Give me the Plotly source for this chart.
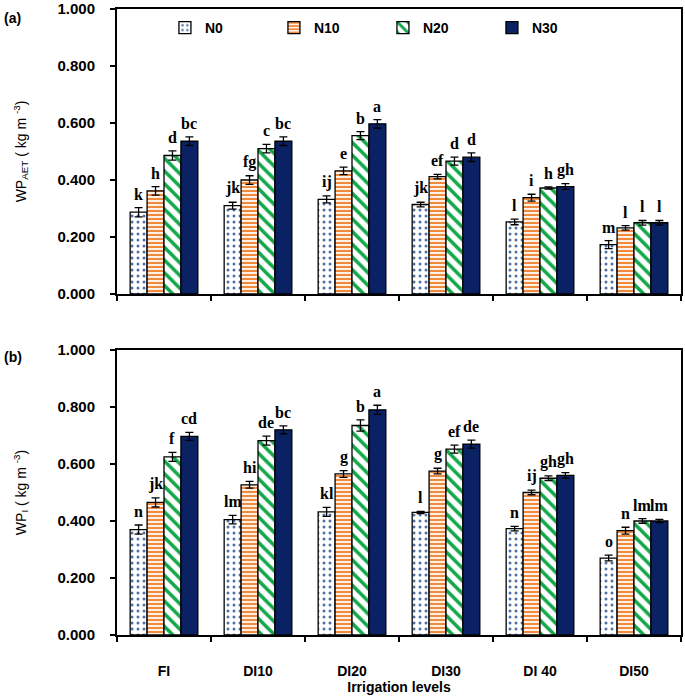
import plotly.graph_objects as go
from plotly.subplots import make_subplots

categories = ["FI", "DI10", "DI20", "DI30", "DI 40", "DI50"]
series_names = ["N0", "N10", "N20", "N30"]

# Panel (a): WP_AET
wp_aet = {
    "N0": [0.287, 0.310, 0.332, 0.314, 0.253, 0.173],
    "N10": [0.362, 0.400, 0.432, 0.412, 0.338, 0.232],
    "N20": [0.486, 0.510, 0.556, 0.466, 0.372, 0.250],
    "N30": [0.536, 0.536, 0.597, 0.480, 0.377, 0.250],
}
wp_aet_err = {
    "N0": [0.016, 0.012, 0.012, 0.008, 0.010, 0.014],
    "N10": [0.015, 0.015, 0.013, 0.008, 0.012, 0.008],
    "N20": [0.016, 0.015, 0.014, 0.014, 0.004, 0.008],
    "N30": [0.015, 0.015, 0.015, 0.015, 0.010, 0.008],
}
wp_aet_letters = {
    "N0": ["k", "jk", "ij", "jk", "l", "m"],
    "N10": ["h", "fg", "e", "ef", "i", "l"],
    "N20": ["d", "c", "b", "d", "h", "l"],
    "N30": ["bc", "bc", "a", "d", "gh", "l"],
}

# Panel (b): WP_I
wp_i = {
    "N0": [0.370, 0.405, 0.432, 0.430, 0.373, 0.270],
    "N10": [0.465, 0.527, 0.565, 0.575, 0.500, 0.366],
    "N20": [0.625, 0.682, 0.735, 0.652, 0.550, 0.400],
    "N30": [0.697, 0.720, 0.790, 0.670, 0.560, 0.400],
}
wp_i_err = {
    "N0": [0.016, 0.015, 0.016, 0.004, 0.008, 0.010],
    "N10": [0.016, 0.012, 0.012, 0.010, 0.008, 0.012],
    "N20": [0.016, 0.016, 0.020, 0.014, 0.008, 0.008],
    "N30": [0.014, 0.014, 0.016, 0.014, 0.010, 0.006],
}
wp_i_letters = {
    "N0": ["n", "lm", "kl", "l", "n", "o"],
    "N10": ["jk", "hi", "g", "g", "ij", "n"],
    "N20": ["f", "de", "b", "ef", "gh", "lm"],
    "N30": ["cd", "bc", "a", "de", "gh", "lm"],
}

y_ticks = [0.0, 0.2, 0.4, 0.6, 0.8, 1.0]

styles = {
    "N0": dict(shape=".", fgcolor="#4F6FA8", bgcolor="white", size=6, solidity=0.2),
    "N10": dict(shape="-", fgcolor="#F08A3C", bgcolor="#FDF0E6", size=4, solidity=0.5),
    "N20": dict(shape="\\", fgcolor="#12A84A", bgcolor="white", size=9, solidity=0.4),
    "N30": dict(shape="", fgcolor="#0A2163", bgcolor="#0A2163", size=8, solidity=0.2),
}
solid = {"N0": "white", "N10": "#FDF0E6", "N20": "white", "N30": "#0A2163"}

BARGAP = 0.28

fig = make_subplots(rows=2, cols=1, vertical_spacing=0.09)
fig.update_layout(
    yaxis=dict(domain=[0.5447, 1.0]),
    yaxis2=dict(domain=[0.0, 0.4553]),
)

letter_font = dict(family="Liberation Serif", size=16, color="black", weight="bold")

for row, (vals, errs, letters, yref) in enumerate(
    [(wp_aet, wp_aet_err, wp_aet_letters, "y"), (wp_i, wp_i_err, wp_i_letters, "y2")], start=1
):
    for j, name in enumerate(series_names):
        st = styles[name]
        marker = dict(color=solid[name], line=dict(color="black", width=1.3))
        if st["shape"]:
            marker["pattern"] = dict(shape=st["shape"], fgcolor=st["fgcolor"], bgcolor=st["bgcolor"],
                                     size=st["size"], solidity=st["solidity"], fillmode="replace")
        fig.add_trace(
            go.Bar(
                x=categories, y=vals[name], name=name,
                marker=marker,
                error_y=dict(type="data", array=errs[name], color="black", thickness=1.3, width=4),
                showlegend=(row == 1), legendgroup=name,
            ),
            row=row, col=1,
        )
        w = (1 - BARGAP) / len(series_names)
        for i, cat in enumerate(categories):
            fig.add_annotation(
                x=i + (j - 1.5) * w, y=vals[name][i] + errs[name][i],
                xref="x" if row == 1 else "x2", yref=yref,
                text=letters[name][i], showarrow=False,
                yanchor="bottom", yshift=3, font=letter_font,
            )

axis_common = dict(showline=True, linecolor="black", linewidth=2, mirror=True,
                   showgrid=False, zeroline=False, automargin=False)
tick_font = dict(family="Liberation Sans", size=15, color="black", weight="bold")
title_font = dict(family="Liberation Sans", size=14, color="black")

for r in (1, 2):
    fig.update_yaxes(range=[0, 1], tickvals=y_ticks, tickformat=".3f", ticks="outside",
                     ticklen=5, tickwidth=2, tickcolor="black", tickfont=tick_font,
                     ticklabelstandoff=12, row=r, col=1, **axis_common)
    fig.update_xaxes(ticks="outside", tickson="boundaries", ticklen=5, tickwidth=2,
                     tickcolor="black", tickfont=dict(tick_font, size=14), row=r, col=1, **axis_common)

fig.update_xaxes(showticklabels=False, row=1, col=1)
fig.update_xaxes(ticklabelstandoff=22,
                 title=dict(text="Irrigation levels",
                            font=dict(family="Liberation Sans", size=14, color="black", weight="bold"),
                            standoff=0),
                 row=2, col=1)
fig.update_yaxes(title=dict(text="WP<sub>AET</sub> ( kg m <sup>-3</sup>)", font=title_font, standoff=28), row=1, col=1)
fig.update_yaxes(title=dict(text="WP<sub>I</sub> ( kg m <sup>-3</sup>)", font=title_font, standoff=28), row=2, col=1)

panel_font = dict(family="Liberation Sans", size=14, color="black", weight="bold")
fig.add_annotation(x=-0.204, y=0.9856, xref="paper", yref="paper", text="(a)", showarrow=False,
                   xanchor="left", yanchor="middle", font=panel_font)
fig.add_annotation(x=-0.204, y=0.444, xref="paper", yref="paper", text="(b)", showarrow=False,
                   xanchor="left", yanchor="middle", font=panel_font)

fig.update_layout(
    width=685, height=697,
    margin=dict(l=117, r=4, t=9, b=62, autoexpand=False),
    barmode="group", bargap=BARGAP, bargroupgap=0,
    plot_bgcolor="white", paper_bgcolor="white",
    legend=dict(orientation="h", x=0.085, y=0.9696, xanchor="left", yanchor="middle",
                entrywidth=64, entrywidthmode="pixels", itemwidth=30,
                font=dict(family="Liberation Sans", size=14, color="black", weight="bold"),
                bgcolor="rgba(0,0,0,0)", traceorder="normal"),
    font=dict(family="Liberation Sans", color="black"),
)

fig.write_html("out.html", config={"displayModeBar": False},
               post_script="document.body.style.margin='0';")
